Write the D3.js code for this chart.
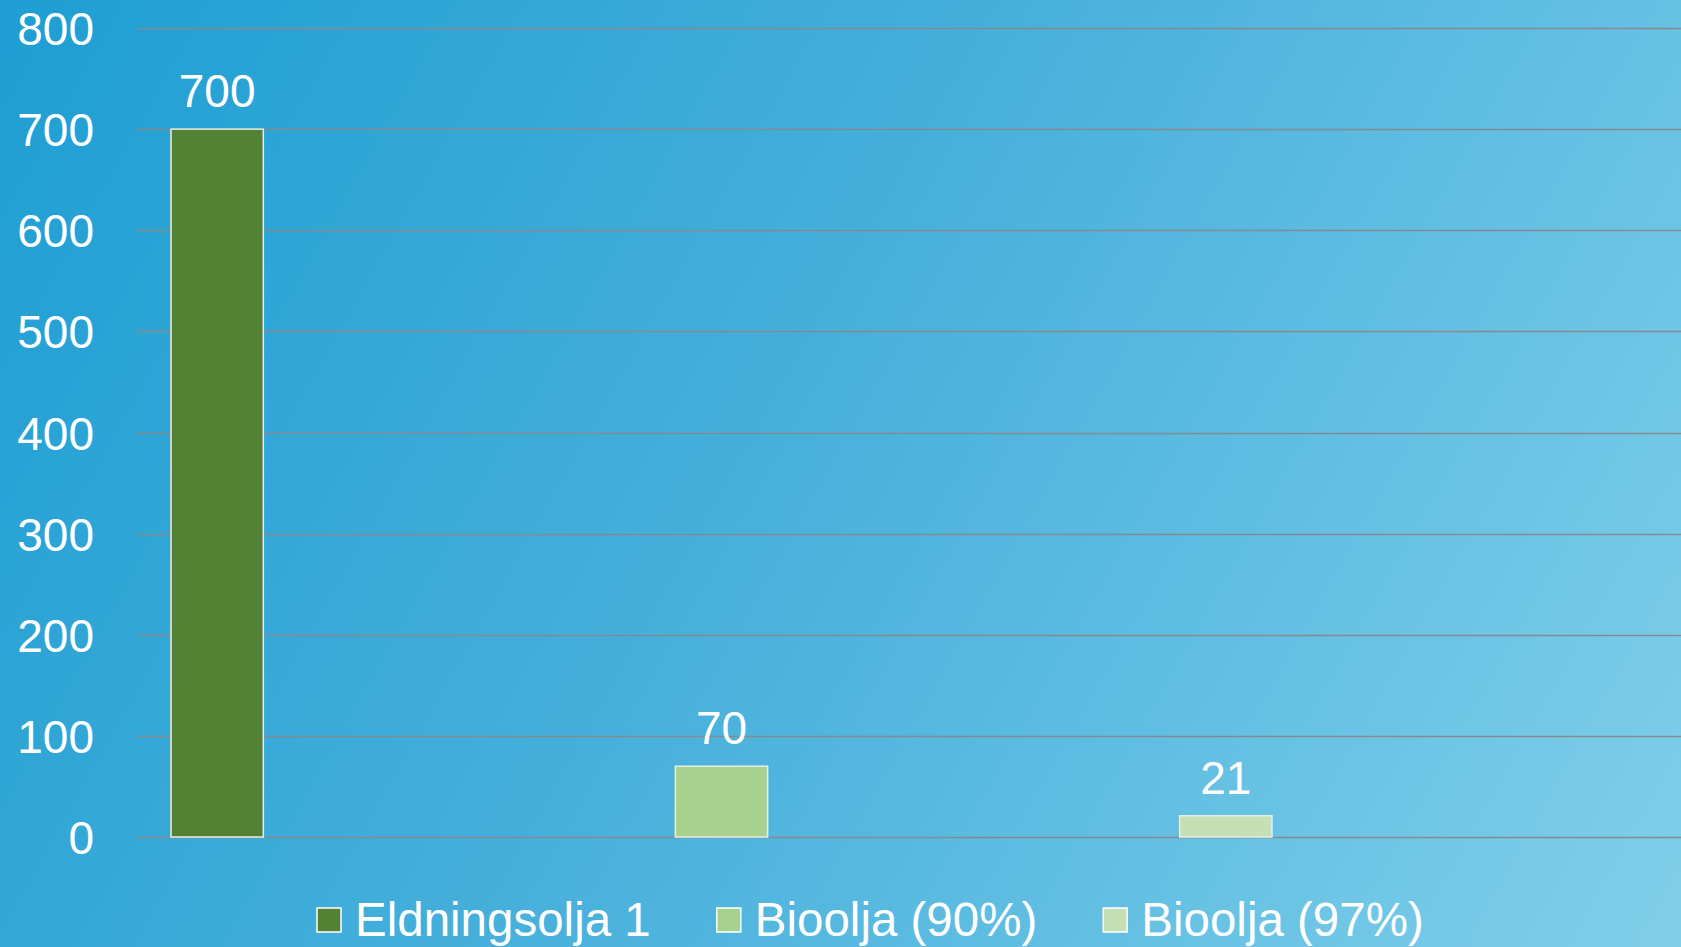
<!DOCTYPE html>
<html>
<head>
<meta charset="utf-8">
<script src="https://cdn.jsdelivr.net/npm/d3@7"></script>
<style>
  html, body { margin: 0; padding: 0; overflow: hidden; }
  svg { display: block; font-family: "Liberation Sans", Arial, sans-serif; }
</style>
</head>
<body>
<svg id="chart" width="1681" height="947"></svg>
<script>
// Data
const seriesNames = ["Eldningsolja 1", "Bioolja (90%)", "Bioolja (97%)"];
const seriesValues = [700, 70, 21];
const seriesColors = ["#548235", "#a9d18e", "#c5e0b4"];
const yTicks = [0, 100, 200, 300, 400, 500, 600, 700, 800];

const W = 1681, H = 947;
const svg = d3.select("#chart");

// Background gradient
const defs = svg.append("defs");
const grad = defs.append("linearGradient")
  .attr("id", "bg").attr("gradientUnits", "userSpaceOnUse")
  .attr("x1", 0).attr("y1", 0).attr("x2", W).attr("y2", H);
grad.append("stop").attr("offset", "0%").attr("stop-color", "#1e9ed3");
grad.append("stop").attr("offset", "45%").attr("stop-color", "#45afdb");
grad.append("stop").attr("offset", "100%").attr("stop-color", "#80cfea");
svg.append("rect").attr("width", W).attr("height", H).attr("fill", "url(#bg)");

// Scales
const gridLeft = 137, gridRight = W;
const y = d3.scaleLinear().domain([0, 800]).range([837, 28]);
const x = d3.scaleBand().domain(seriesNames).range([-35, 1478]).padding(0);
const barW = x.bandwidth() * 0.183;

// Gridlines
svg.append("g").selectAll("line").data(yTicks).join("line")
  .attr("x1", gridLeft).attr("x2", gridRight)
  .attr("y1", d => Math.round(y(d)) + 0.5).attr("y2", d => Math.round(y(d)) + 0.5)
  .attr("stroke", "#868a8e").attr("stroke-width", 1.5);

// Y axis labels
const yAxis = d3.axisLeft(y).tickValues(yTicks).tickSize(0).tickPadding(0);
const gy = svg.append("g").attr("transform", "translate(94,0)").call(yAxis);
gy.select(".domain").remove();
gy.selectAll("text")
  .attr("fill", "#ffffff").attr("font-size", 46)
  .attr("font-family", "'Liberation Sans', Arial, sans-serif")
  .attr("dy", "0.36em");

// Bars
const data = seriesNames.map((n, i) => ({ name: n, value: seriesValues[i], color: seriesColors[i] }));
svg.append("g").selectAll("rect").data(data).join("rect")
  .attr("x", d => x(d.name) + x.bandwidth() / 2 - barW / 2)
  .attr("width", barW)
  .attr("y", d => y(d.value))
  .attr("height", d => y(0) - y(d.value))
  .attr("fill", d => d.color)
  .attr("stroke", "#e6efe6").attr("stroke-width", 1.5);

// Data labels
svg.append("g").selectAll("text").data(data).join("text")
  .attr("x", d => x(d.name) + x.bandwidth() / 2)
  .attr("y", d => y(d.value) - 22)
  .attr("text-anchor", "middle")
  .attr("fill", "#ffffff").attr("font-size", 46)
  .text(d => d3.format("d")(d.value));

// Legend
const legend = svg.append("g");
let lx = 317;
const sw = 24, legendMid = 920;
data.forEach(d => {
  legend.append("rect")
    .attr("x", lx).attr("y", legendMid - sw / 2)
    .attr("width", sw).attr("height", sw)
    .attr("fill", d.color).attr("stroke", "#ffffff").attr("stroke-width", 1.5);
  const t = legend.append("text")
    .attr("x", lx + sw + 14).attr("y", legendMid + 16)
    .attr("fill", "#ffffff").attr("font-size", 47.5)
    .text(d.name);
  const tw = t.node().getComputedTextLength();
  lx = lx + sw + 14 + tw + 66;
});
</script>
</body>
</html>
